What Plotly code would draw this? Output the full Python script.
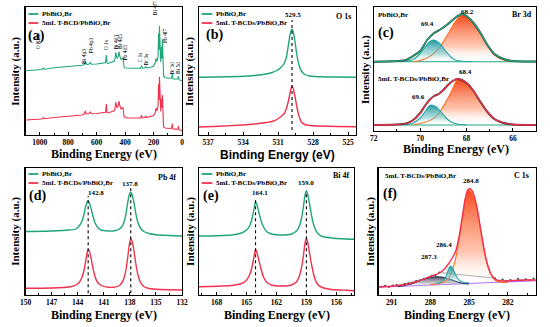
import plotly.graph_objects as go

W, H = 550, 327
SERIF = "Liberation Serif, Times New Roman, serif"
SANS = "Liberation Sans, Arial, sans-serif"
GREEN = "#1fa67a"
RED = "#f2314f"
TEAL = "#27a9a9"
ORANGE = "#ff6a1a"
NAVY = "#1f2d5c"
PURPLE = "#b36bff"

# ---------------- data ----------------
# (a) survey spectra
a_be = [1100, 1000, 985, 975, 965, 900, 800, 700, 688, 680, 672, 655, 645, 637, 600, 560, 538, 532, 528, 520,
        500, 474, 466, 458, 450, 443, 437, 428, 415, 408, 400, 380, 330, 292, 285, 279, 262, 256, 250, 215,
        200, 190, 183, 177, 169, 165, 162, 159, 156, 150, 144, 141, 138, 135, 130, 120, 100, 80, 72, 69,
        66, 40, 29, 26, 22, 0]
a_pbbio2br = [63.3, 64, 64.5, 66, 64.8, 66.3, 67.3, 68.7, 69.5, 72.5, 69.5, 69.8, 71.5, 69.7, 70, 70.7, 71.3, 79, 71, 70.5,
              71.3, 73, 81.7, 75.5, 77, 82.3, 77.5, 74.5, 76.5, 67, 66, 65.7, 65.7, 65.8, 68.3, 65.8, 66, 67.5, 66, 67,
              68, 70.7, 75.7, 72.5, 77, 100.5, 84, 108, 80.5, 72, 87.5, 75.5, 94.7, 67.3, 58, 56.5, 55.7, 55.7, 56.5, 60.5,
              55.3, 54.7, 55.5, 58, 54.3, 53.3]
a_tbcd = [14, 14.5, 15, 16.5, 15.3, 16.5, 17.5, 19, 20, 23, 20, 20.3, 22, 20.2, 20.5, 21, 21.8, 30, 21.5, 21,
          21.8, 23.5, 32, 26, 27.5, 33, 28, 25, 26.5, 17.5, 16.5, 16, 16, 16, 18.8, 16.2, 16.5, 18, 16.5, 17.5,
          18.5, 21, 26, 23, 27.5, 50, 34, 57.3, 31, 22.5, 35.5, 26, 39, 17, 7, 6, 5.5, 5.5, 6.3, 10.5,
          5.2, 4.6, 5.3, 8, 4.3, 3.5]
a_peak_names = ["O KLL", "Bi 4p3", "Pb 4p3", "O 1s", "Bi 4d3", "Bi 4d5", "Pb 4d5", "C 1s", "Br 3s",
                "Bi 4f7", "Pb 4f7", "Br 3d", "Bi 5d"]
a_peak_be = [1010, 690, 639, 533, 467, 437, 398, 299, 257, 189, 120, 74, 28]
a_peak_int = [93, 78, 89, 89, 92, 93, 82, 76, 74, 126, 98, 66, 66]

# (b) O 1s
b_be = [537.8, 536, 534, 533, 532, 531.5, 531.1, 530.8, 530.5, 530.3, 530.15, 530.0, 529.9, 529.8, 529.7,
        529.55, 529.4, 529.2, 529.0, 528.7, 528.3, 527.5, 526, 524.3]
b_pbbio2br = [56.7, 57, 57.7, 58.5, 60, 61.5, 63.5, 66, 70, 76, 86, 97, 102.5, 104.7, 102,
              93, 80, 69, 63, 59.5, 58, 57.3, 57, 56.7]
b_tbcd = [7, 7.8, 9, 10, 11.5, 12.5, 14.5, 17, 20, 25, 31, 39, 45, 48, 45.5,
          38, 28, 18, 12, 9.5, 8.5, 8, 7.5, 7.3]
b_peaks = [529.8]

# (c) Br 3d
c_be = [72.0, 71.0, 70.6, 70.3, 70.0, 69.7, 69.4, 69.1, 68.8, 68.5, 68.2, 67.95, 67.7, 67.4, 67.1, 66.8, 66.4, 66.0, 65.0]
c_top_env = [72.3, 73, 74, 78, 83, 94, 101, 105, 110, 116, 120, 117, 111, 101, 89, 80, 75, 73, 72.5]
c_bot_be = [72.0, 71.0, 70.6, 70.3, 70.0, 69.8, 69.6, 69.4, 69.2, 69.0, 68.8, 68.6, 68.4, 68.2, 67.95, 67.7,
            67.4, 67.1, 66.8, 66.4, 66.0, 65.0]
c_bot_env = [9, 9.5, 10.5, 14, 21, 28, 34, 38, 40, 44, 49, 53, 55, 54, 50, 43, 32, 22, 15, 11, 9.5, 9]
c_teal_top_be = [70.6, 70.3, 70.0, 69.8, 69.6, 69.45, 69.3, 69.1, 68.9, 68.7, 68.5, 68.2, 67.8]
c_teal_top = [72.6, 74.5, 80.5, 86.5, 92, 94, 93, 89, 83, 77.5, 74, 72.8, 72.3]
c_orange_top_be = [70.3, 70.0, 69.7, 69.4, 69.1, 68.8, 68.5, 68.2, 67.95, 67.7, 67.4, 67.1, 66.8, 66.5, 66.2, 65.8]
c_orange_top = [72.5, 73.5, 76, 81, 89, 100, 112, 119, 117, 110, 100, 88, 79, 75, 73, 72.4]
c_teal_bot_be = [70.6, 70.3, 70.0, 69.8, 69.6, 69.5, 69.3, 69.1, 68.9, 68.7, 68.4, 68.0]
c_teal_bot = [9.2, 11, 16, 22, 28.5, 29, 27, 22, 16.5, 12.5, 10, 9.2]
c_orange_bot_be = [70.3, 70.0, 69.7, 69.4, 69.1, 68.8, 68.6, 68.4, 68.2, 67.95, 67.7, 67.4, 67.1, 66.8, 66.4, 66.0, 65.6]
c_orange_bot = [9.3, 10.5, 12.5, 16, 24, 36, 45, 54.5, 53.5, 49.5, 42.5, 31.5, 21.5, 14.5, 10.5, 9.4, 9.1]
c_bg_be = [72, 65]
c_bg_top = [72.3, 72.2]
c_bg_bot = [9, 9]

# (d) Pb 4f
d_be = [150, 147, 145, 144.2, 143.8, 143.5, 143.3, 143.1, 142.95, 142.8, 142.65, 142.45, 142.25, 142.0, 141.7,
        141.3, 140.5, 139.9, 139.3, 138.9, 138.6, 138.4, 138.2, 138.05, 137.9, 137.75, 137.55, 137.35, 137.1,
        136.8, 136.4, 135.8, 135, 133.5, 132]
d_pbbio2br = [63.5, 64, 65, 66, 69.5, 74, 80, 88, 92.5, 94.3, 92, 86, 79, 72, 67.5,
              65, 64, 64, 65.5, 68.5, 75, 84, 95, 101, 102.7, 100.5, 93, 83, 73,
              67, 63.5, 61.5, 60.3, 59.5, 59]
d_tbcd = [6.7, 7, 8, 10, 13, 18, 24, 33, 41, 45.5, 43.5, 36, 27, 18, 12.5,
          9.5, 7.8, 7.8, 9, 12.5, 19, 28, 41, 51, 56.5, 54, 45, 33, 21,
          13, 8.5, 6.5, 5.8, 5.3, 5]
d_peaks = [142.8, 137.9]

# (e) Bi 4f
e_be = [169.8, 168, 166.5, 165.5, 165.0, 164.7, 164.5, 164.35, 164.2, 164.1, 163.95, 163.75, 163.55, 163.3,
        163.0, 162.5, 161.5, 160.5, 160.0, 159.7, 159.5, 159.3, 159.15, 159.0, 158.85, 158.65, 158.45, 158.2,
        157.9, 157.4, 156.5, 155, 154.2]
e_pbbio2br = [59, 59.3, 60, 62, 65, 69, 74.5, 81, 89, 93.3, 90, 82, 74.5, 68,
              63.5, 61, 60, 61, 64, 69, 76, 88, 99, 104.3, 100, 89, 78, 68,
              62, 58.5, 57, 56, 55.7]
e_tbcd = [8.3, 8.7, 9.5, 11.5, 15, 20, 26, 33, 41, 45.7, 42, 34, 26, 18,
          13, 10, 9, 10, 13, 19, 27, 39, 51, 56.7, 52, 40, 29, 18,
          11, 7.5, 5.5, 4.7, 4.3]
e_peaks = [164.1, 159.0]

# (f) C 1s
f_be = [292, 291, 290, 289, 288.3, 287.8, 287.3, 286.9, 286.6, 286.3, 286.0, 285.75, 285.5, 285.3, 285.1,
        284.95, 284.8, 284.6, 284.35, 284.1, 283.85, 283.6, 283.3, 283.0, 282.5, 281.5, 280.5, 279.8]
f_env = [8.3, 8.8, 10.5, 13.5, 17, 19.5, 22, 26, 31, 37, 45, 60, 80, 96, 105,
         106.5, 105, 99, 85, 66, 47, 32, 21, 16, 14, 14.5, 15, 15]
f_raw_be = [291.8, 291.5, 291.2, 290.9, 290.6, 290.3, 290.0, 289.7, 289.4, 289.1, 288.8, 288.5, 288.2, 287.9,
            287.6, 287.3, 283.0, 282.7, 282.4, 282.1, 281.8, 281.5, 281.2, 280.9, 280.6, 280.3, 280.0]
f_raw = [8.0, 9.2, 8.1, 9.6, 10.0, 9.4, 11.2, 11.8, 12.6, 14.1, 14.8, 16.3, 16.9, 19.2,
         19.8, 22.5, 16.8, 14.2, 15.6, 13.8, 15.1, 14.0, 16.2, 14.5, 15.8, 14.7, 16.4]
f_orange_be = [288.0, 287.3, 286.8, 286.4, 286.1, 285.8, 285.5, 285.3, 285.15, 285.0, 284.85, 284.6, 284.35,
               284.1, 283.85, 283.6, 283.3, 283.0, 282.6, 282.0]
f_orange = [10.5, 11.5, 14, 21, 33, 53, 78, 94, 102.5, 105, 103.5, 96, 83, 64, 45.5, 31, 20.5, 15, 13, 12.5]
f_teal_be = [287.6, 287.2, 286.95, 286.75, 286.6, 286.45, 286.3, 286.1, 285.9, 285.7, 285.4, 285.0]
f_teal = [11.5, 12.5, 15, 20, 25.5, 29, 27.5, 22, 17, 14, 12.5, 12.2]
f_navy_be = [290.5, 290.0, 289.5, 289.0, 288.5, 288.0, 287.5, 287.0, 286.5, 286.0, 285.5, 285.0]
f_navy = [8.3, 9.5, 11, 13.5, 16, 17.8, 18.3, 17.8, 16, 13.5, 11.8, 11]
f_bg_be = [292, 279.8]
f_bg = [7.7, 14.3]

LBL_A = "PbBiO₂Br"
LBL_B_A = "5mL T-BCD/PbBiO₂Br"
LBL_B = "5mL T-BCDs/PbBiO₂Br"

# ---------------- layout helpers ----------------
def X(p):
    return p / W


def Y(p):
    return 1 - p / H


panels = {
    1: dict(x=(20, 180), y=(7, 135), rng=[1100, 0], yr=[-1, 127], dtick=200, tick0=0, minor=100),
    2: dict(x=(197, 358), y=(7, 135), rng=[537.8, 524.3], yr=[-1, 127], dtick=3, tick0=525, minor=1.5),
    3: dict(x=(376, 542), y=(7, 131), rng=[72, 65], yr=[3, 127], dtick=2, tick0=66, minor=1),
    4: dict(x=(20, 180), y=(168, 295), rng=[150, 132], yr=[0, 127], dtick=3, tick0=132, minor=1.5),
    5: dict(x=(197, 356), y=(168, 295), rng=[169.8, 154.2], yr=[0, 127], dtick=3, tick0=156, minor=1.5),
    6: dict(x=(381, 542), y=(168, 295), rng=[292, 279.8], yr=[0, 127], dtick=3, tick0=282, minor=1.5),
}


def sfx(i):
    return "" if i == 1 else str(i)


def line(xs, ys, i, color, width=1.3, shape="spline"):
    return go.Scatter(x=xs, y=ys, xaxis="x" + sfx(i), yaxis="y" + sfx(i), mode="lines",
                      line=dict(color=color, width=width, shape=shape, smoothing=0.6),
                      hoverinfo="skip", showlegend=False)


def gfill(xs, ys, i, linecolor, mid, top, width=1.1):
    tr = line(xs, ys, i, linecolor, width)
    tr.update(fill="tozeroy",
              fillgradient=dict(type="vertical",
                                colorscale=[[0, "rgba(255,255,255,0)"], [0.35, mid], [1, top]],
                                start=min(ys), stop=max(ys)))
    return tr


fig = go.Figure()

# (a)
fig.add_trace(line(a_be, a_pbbio2br, 1, GREEN, 1.1, "linear"))
fig.add_trace(line(a_be, a_tbcd, 1, RED, 1.1, "linear"))
# (b)
fig.add_trace(line(b_be, b_pbbio2br, 2, GREEN, 1.4))
fig.add_trace(line(b_be, b_tbcd, 2, RED, 1.4))
# (c)
fig.add_trace(line(c_bg_be, c_bg_top, 3, GREEN, 1.0, "linear"))
fig.add_trace(line(c_bg_be, c_bg_bot, 3, GREEN, 1.0, "linear"))
fig.add_trace(gfill(c_orange_top_be, c_orange_top, 3, ORANGE, "rgba(255,150,110,0.55)", "rgba(245,70,25,1)"))
fig.add_trace(gfill(c_teal_top_be, c_teal_top, 3, TEAL, "rgba(120,200,200,0.55)", "rgba(30,150,155,1)"))
fig.add_trace(gfill(c_orange_bot_be, c_orange_bot, 3, ORANGE, "rgba(255,150,110,0.55)", "rgba(245,70,25,1)"))
fig.add_trace(gfill(c_teal_bot_be, c_teal_bot, 3, TEAL, "rgba(120,200,200,0.55)", "rgba(30,150,155,1)"))
fig.add_trace(line(c_be, c_top_env, 3, "#333333", 2.0))
fig.add_trace(line(c_be, c_top_env, 3, GREEN, 1.3))
fig.add_trace(line(c_bot_be, c_bot_env, 3, "#333333", 2.0))
fig.add_trace(line(c_bot_be, c_bot_env, 3, RED, 1.3))
# (d)
fig.add_trace(line(d_be, d_pbbio2br, 4, GREEN, 1.4))
fig.add_trace(line(d_be, d_tbcd, 4, RED, 1.4))
# (e)
fig.add_trace(line(e_be, e_pbbio2br, 5, GREEN, 1.4))
fig.add_trace(line(e_be, e_tbcd, 5, RED, 1.4))
# (f)
fig.add_trace(go.Scatter(x=f_raw_be, y=f_raw, xaxis="x6", yaxis="y6", mode="markers+lines",
                         marker=dict(size=2, color="#444444"), line=dict(color="#666666", width=0.6),
                         hoverinfo="skip", showlegend=False))
fig.add_trace(line(f_bg_be, f_bg, 6, PURPLE, 1.1, "linear"))
fig.add_trace(gfill(f_navy_be, f_navy, 6, NAVY, "rgba(150,150,165,0.5)", "rgba(60,62,85,0.95)"))
fig.add_trace(gfill(f_orange_be, f_orange, 6, ORANGE, "rgba(255,150,110,0.55)", "rgba(245,70,25,1)"))
fig.add_trace(gfill(f_teal_be, f_teal, 6, TEAL, "rgba(120,200,200,0.55)", "rgba(30,150,155,1)"))
fig.add_trace(line(f_be, f_env, 6, RED, 1.4))

# axes
for i, p in panels.items():
    s = sfx(i)
    fig.update_layout(**{
        "xaxis" + s: dict(domain=[X(p["x"][0]), X(p["x"][1])], range=p["rng"], anchor="y" + s,
                          showline=True, linecolor="black", linewidth=1.2, mirror=True,
                          ticks="inside", ticklen=3, tickwidth=1, tickcolor="black",
                          dtick=p["dtick"], tick0=p["tick0"],
                          minor=dict(dtick=p["minor"], ticks="inside", ticklen=1.8, tickcolor="black"),
                          tickfont=dict(family=SERIF, size=7.5, color="black", weight="bold"),
                          showgrid=False, zeroline=False),
        "yaxis" + s: dict(domain=[Y(p["y"][1]), Y(p["y"][0])], range=p["yr"], anchor="x" + s,
                          showline=True, linecolor="black", linewidth=1.2, mirror=True,
                          ticks="", showticklabels=False, showgrid=False, zeroline=False),
    })

shapes = []
# dotted peak markers
for pk in b_peaks:
    shapes.append(dict(type="line", xref="x2", yref="y2 domain", x0=pk, x1=pk, y0=0.039, y1=0.898,
                       line=dict(color="black", width=1.1, dash="dot")))
for pk, top in zip(d_peaks, [0.78, 0.86]):
    shapes.append(dict(type="line", xref="x4", yref="y4 domain", x0=pk, x1=pk, y0=0.013, y1=top,
                       line=dict(color="black", width=1.1, dash="dot")))
for pk, top in zip(e_peaks, [0.75, 0.81]):
    shapes.append(dict(type="line", xref="x5", yref="y5 domain", x0=pk, x1=pk, y0=0.013, y1=top,
                       line=dict(color="black", width=1.1, dash="dot")))
# legend swatches
for (x0, x1, y0, c) in [(23, 33, 14, GREEN), (23, 33, 23, RED), (200, 211, 14, GREEN), (200, 211, 23, RED),
                        (23, 33, 174, GREEN), (23, 33, 183, RED), (200, 211, 174, GREEN), (200, 211, 183, RED)]:
    shapes.append(dict(type="line", xref="paper", yref="paper", x0=X(x0), x1=X(x1), y0=Y(y0), y1=Y(y0),
                       line=dict(color=c, width=1.8)))


def ann(text, x, y, size=7, xanchor="center", family=SERIF, angle=0):
    return dict(text=text, x=X(x), y=Y(y), xref="paper", yref="paper", showarrow=False,
                xanchor=xanchor, yanchor="middle", textangle=angle,
                font=dict(family=family, size=size, color="black", weight="bold"))


annotations = []
# panel letters
for t, x, y in [("(a)", 31.5, 36), ("(b)", 213, 35), ("(c)", 388, 33), ("(d)", 32, 196), ("(e)", 210, 196),
                ("(f)", 393, 194)]:
    annotations.append(ann(t, x, y, 14))
# legends
for t, x, y in [(LBL_A, 35, 14), (LBL_B_A, 35, 23), (LBL_A, 213, 14), (LBL_B, 213, 23),
                (LBL_A, 35, 174), (LBL_B, 35, 183), (LBL_A, 213, 174), (LBL_B, 213, 183),
                (LBL_A, 378, 15), (LBL_B, 378, 79), (LBL_B, 385, 176)]:
    annotations.append(ann(t, x, y, 7, "left"))
# region names
for t, x, y in [("O 1s", 345, 17), ("Br 3d", 528, 15), ("Pb 4f", 165, 177), ("Bi 4f", 343, 176), ("C 1s", 527, 176)]:
    annotations.append(ann(t, x, y, 8))
# peak values
for t, x, y in [("529.5", 293, 15), ("69.4", 431, 24), ("68.2", 472, 12), ("69.6", 422, 97), ("68.4", 470, 72),
                ("142.8", 92, 193), ("137.8", 127, 184), ("164.1", 260, 193), ("159.0", 307, 183),
                ("284.8", 475, 181), ("286.4", 448, 245), ("287.3", 432, 257)]:
    annotations.append(ann(t, x, y, 7))
# axis titles
for x, y, fam in [(100, 154, SERIF), (278, 155, SANS), (460, 149, SERIF), (100, 315, SERIF), (277, 315, SERIF),
                  (461, 315, SERIF)]:
    annotations.append(ann("Binding Energy (eV)", x, y, 12, "center", fam))
for x, y in [(9, 71), (187, 71), (367, 69), (9, 231), (188, 231), (372, 231)]:
    annotations.append(ann("Intensity (a.u.)", x, y, 11, "center", SERIF, -90))
# survey peak labels
for name, be, it in zip(a_peak_names, a_peak_be, a_peak_int):
    annotations.append(dict(text=name, x=be, y=it, xref="x", yref="y", showarrow=False, textangle=-90,
                            font=dict(family=SERIF, size=5.5, color="black"), xanchor="center", yanchor="middle"))

fig.update_layout(width=W, height=H, margin=dict(l=0, r=0, t=0, b=0), paper_bgcolor="white",
                  plot_bgcolor="white", showlegend=False, shapes=shapes, annotations=annotations)

fig.write_html("out.html", config={"displayModeBar": False, "staticPlot": True},
               post_script="document.body.style.margin='0';document.body.style.padding='0';")
